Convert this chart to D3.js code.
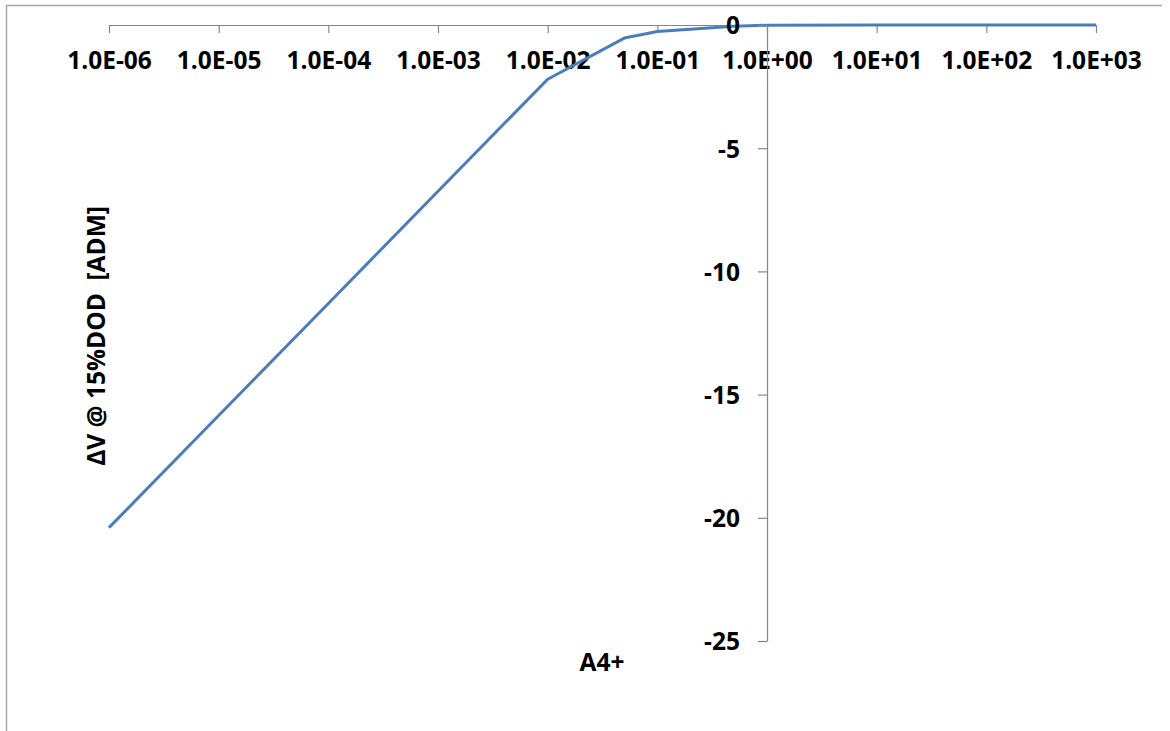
<!DOCTYPE html>
<html><head><meta charset="utf-8">
<script src="https://cdn.jsdelivr.net/npm/d3@7"></script>
<style>
html,body{margin:0;padding:0;background:#fff;}
svg text{font-family:"Open Sans",Lato,sans-serif;font-weight:700;fill:#000;}
</style></head>
<body><svg id="c" width="1170" height="731"></svg>
<script>
const xValues = [1e-6, 1e-5, 1e-4, 1e-3, 1e-2, 0.05, 0.1, 0.5, 1, 10, 100, 1000];
const yValues = [-20.4, -15.85, -11.3, -6.75, -2.2, -0.53, -0.26, -0.05, -0.01, 0, 0, 0];
const xTicks = [1e-6, 1e-5, 1e-4, 1e-3, 1e-2, 1e-1, 1, 10, 100, 1000];
const xTickLabels = ["1.0E-06","1.0E-05","1.0E-04","1.0E-03","1.0E-02","1.0E-01","1.0E+00","1.0E+01","1.0E+02","1.0E+03"];
const yTicks = [0, -5, -10, -15, -20, -25];
const xTitle = "A4+";
const yTitle = "ΔV @ 15%DOD  [ADM]";

const svg = d3.select("#c");
// chart frame
svg.append("path").attr("d","M6.5,731 V5.5 H1162").attr("fill","none").attr("stroke","#a6a6a6").attr("stroke-width",1.5);

const x = d3.scaleLog().domain([1e-6, 1e3]).range([109, 1096]);
const y = d3.scaleLinear().domain([-25, 0]).range([641, 25]);
const fs = 24.5;

// x axis at y=0
const xa = svg.append("g").attr("transform", `translate(0,${y(0)})`)
  .call(d3.axisBottom(x).tickValues(xTicks).tickSize(8).tickSizeOuter(0)
    .tickFormat((d,i)=>xTickLabels[i]));
xa.select(".domain").attr("stroke","#868686").attr("stroke-width",1.2);
xa.selectAll(".tick line").attr("stroke","#868686").attr("stroke-width",1.2);
xa.selectAll(".tick text").attr("font-size",fs).attr("y",null).attr("dy",null)
  .attr("transform","translate(0,44)").style("font-family",'"Open Sans",sans-serif').style("font-weight",700);

// y axis at x=1
const ya = svg.append("g").attr("transform", `translate(${x(1)},0)`)
  .call(d3.axisLeft(y).tickValues(yTicks).tickSize(9).tickSizeOuter(0).tickFormat(d3.format("d")));
ya.select(".domain").attr("stroke","#868686").attr("stroke-width",1.2);
ya.selectAll(".tick line").attr("stroke","#868686").attr("stroke-width",1.2);
ya.selectAll(".tick text").attr("font-size",fs).attr("x",-27).attr("dy","0.36em")
  .style("font-family",'"Open Sans",sans-serif').style("font-weight",700);
ya.selectAll(".tick text").text(d=>String(d));

// line
const pts = xValues.map((v,i)=>[v, yValues[i]]);
svg.append("path").datum(pts)
  .attr("fill","none").attr("stroke","#4a7ebb").attr("stroke-width",3).attr("stroke-linejoin","round")
  .attr("d", d3.line().x(d=>x(d[0])).y(d=>y(d[1])));

// bring y tick labels on top of the line
svg.node().appendChild(ya.node());

// titles
svg.append("text").attr("x",602).attr("y",671).attr("text-anchor","middle").attr("font-size",fs).text(xTitle);
svg.append("text").attr("transform","translate(105,336) rotate(-90)").attr("text-anchor","middle")
  .attr("font-size",fs).attr("xml:space","preserve").style("white-space","pre").text(yTitle);
</script></body></html>
